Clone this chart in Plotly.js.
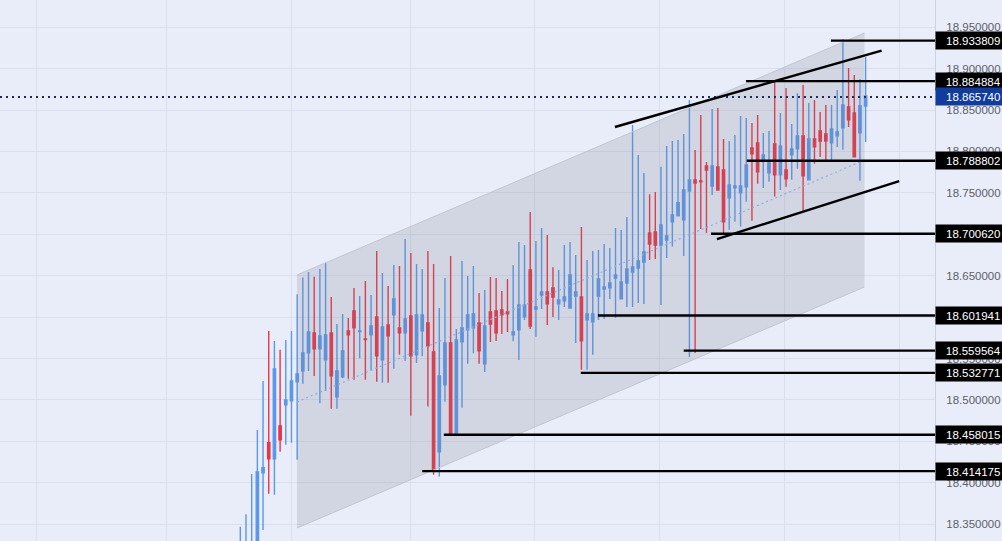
<!DOCTYPE html>
<html>
<head>
<meta charset="utf-8">
<script src="https://cdn.plot.ly/plotly-3.0.1.min.js"></script>
<style>
  html, body { margin: 0; padding: 0; background: #e9edf9; overflow: hidden; }
  #chart { width: 1002px; height: 541px; }
</style>
</head>
<body>
<div id="chart"></div>
<script>
const candleOpen = [18.325,18.32,18.315,18.31,18.412,18.4483,18.429,18.4688,18.4941,18.499,18.5219,18.5351,18.5569,18.581,18.5617,18.5484,18.581,18.5038,18.5279,18.5834,18.6075,18.5826,18.5737,18.5786,18.6003,18.5484,18.5906,18.6027,18.587,18.581,18.6015,18.5545,18.5834,18.593,18.5581,18.4375,18.5183,18.5689,18.4592,18.5701,18.5846,18.587,18.593,18.5436,18.6063,18.6075,18.6087,18.6063,18.5786,18.5846,18.6003,18.657,18.6099,18.6268,18.6304,18.6353,18.616,18.6196,18.6111,18.6256,18.6244,18.5967,18.5943,18.6256,18.634,18.6353,18.6473,18.622,18.6413,18.6545,18.6594,18.6666,18.7016,18.7028,18.6871,18.6931,18.715,18.7223,18.7175,18.7523,18.7655,18.7643,18.7824,18.7583,18.7812,18.7778,18.744,18.756,18.75,18.7573,18.8043,18.8103,18.7898,18.7741,18.8091,18.7717,18.7778,18.7959,18.8031,18.8188,18.7657,18.8151,18.8248,18.8212,18.8103,18.8188,18.8284,18.8537,18.8465,18.8224,18.8549];
const candleHigh = [18.3471,18.362,18.4107,18.4638,18.523,18.5834,18.5713,18.5605,18.5725,18.5834,18.6276,18.6477,18.6545,18.6489,18.6582,18.6654,18.6244,18.5918,18.6039,18.5991,18.6353,18.6256,18.6437,18.6268,18.6799,18.6533,18.6377,18.663,18.6618,18.6943,18.6775,18.6642,18.6582,18.6799,18.6642,18.6111,18.6473,18.6738,18.5858,18.6678,18.6497,18.6618,18.6292,18.6328,18.6485,18.6473,18.6316,18.6461,18.663,18.6907,18.6871,18.7269,18.6919,18.7076,18.6992,18.6602,18.657,18.6871,18.6907,18.6751,18.7088,18.669,18.6799,18.6811,18.6883,18.6835,18.7076,18.7052,18.7209,18.8319,18.7957,18.774,18.7482,18.751,18.7816,18.8066,18.8127,18.8139,18.8212,18.8621,18.8018,18.844,18.7873,18.8512,18.8524,18.8151,18.8127,18.82,18.8429,18.8405,18.8344,18.8441,18.8224,18.8248,18.8851,18.8465,18.8767,18.8332,18.8702,18.8803,18.8586,18.8622,18.8477,18.8561,18.8561,18.8742,18.9353,18.9008,18.8923,18.8875,18.914];
const candleLow = [18.31,18.31,18.305,18.3,18.3431,18.3868,18.3856,18.4375,18.4459,18.4483,18.4278,18.5195,18.5351,18.5291,18.4962,18.511,18.4893,18.4893,18.5263,18.5255,18.5243,18.5504,18.5243,18.5355,18.5219,18.5207,18.5207,18.5376,18.5545,18.5472,18.4809,18.5448,18.5532,18.4921,18.4097,18.4077,18.4978,18.4592,18.458,18.4905,18.5436,18.5565,18.5436,18.5339,18.5701,18.5713,18.5798,18.5822,18.5709,18.5484,18.5967,18.5858,18.5762,18.6099,18.5906,18.6003,18.5967,18.6123,18.6111,18.5689,18.5364,18.5364,18.5545,18.5967,18.5979,18.622,18.5991,18.622,18.6123,18.6123,18.6172,18.616,18.669,18.6702,18.6148,18.6714,18.6853,18.7215,18.6738,18.5519,18.5567,18.7064,18.7016,18.7474,18.7535,18.7006,18.7054,18.715,18.7094,18.7392,18.7163,18.7609,18.756,18.7633,18.7456,18.7536,18.7573,18.7657,18.779,18.7271,18.7657,18.785,18.7934,18.7898,18.7878,18.8055,18.8019,18.8296,18.7934,18.7645,18.8115];
const candleClose = [18.328,18.325,18.32,18.4131,18.4184,18.429,18.5376,18.4519,18.5002,18.5231,18.5315,18.5569,18.5822,18.5617,18.5774,18.5786,18.5291,18.5351,18.5593,18.5786,18.587,18.5834,18.5729,18.5894,18.5532,18.5882,18.5774,18.622,18.581,18.5979,18.5532,18.6027,18.6027,18.5653,18.4158,18.5291,18.5689,18.4592,18.5725,18.587,18.6027,18.6039,18.5593,18.5894,18.5918,18.581,18.6027,18.6039,18.5822,18.6148,18.6148,18.5894,18.6123,18.6304,18.616,18.6244,18.6208,18.6244,18.6509,18.6304,18.5713,18.6039,18.6039,18.6461,18.6365,18.6413,18.6509,18.6425,18.6582,18.6606,18.6678,18.6787,18.6883,18.6871,18.7112,18.698,18.7235,18.738,18.7536,18.7655,18.7619,18.7635,18.7776,18.7824,18.7535,18.715,18.7597,18.7585,18.7585,18.7838,18.7971,18.7753,18.7959,18.7862,18.7717,18.8067,18.7669,18.8031,18.8188,18.7705,18.8151,18.8055,18.8127,18.8127,18.8272,18.8236,18.8561,18.8381,18.7934,18.8549,18.867];

// drawn levels: value, first candle index
const levelValues = [18.933809,18.884884,18.788802,18.70062,18.601941,18.559564,18.532771,18.458015,18.414175];
const levelStarts = [103.9,88.95,89.1,82.8,62.9,78,59.9,35.8,32];
const lastPrice = 18.86574;

// regression channel
const channelX = [9.97,109.8];
const channelTop = [18.6509,18.943];
const channelMid = [18.4976,18.7897];
const channelBottom = [18.3455,18.6364];

// trend lines drawn by hand
const upperTrendX = [65.9,112.8];
const upperTrendY = [18.8295,18.9218];
const lowerTrendX = [83.85,115.9];
const lowerTrendY = [18.6943,18.7643];

// 18.6 and 18.7 sit fully under the level boxes in the source, only the grid shows
const priceTicks = [18.35,18.4,18.45,18.5,18.55,18.6,18.65,18.7,18.75,18.8,18.85,18.9,18.95];
const priceTickLabels = ['18.350000','18.400000','18.450000','18.500000','18.550000','','18.650000','','18.750000','18.800000','18.850000','18.900000','18.950000'];
const timeGrid = [-35.9,-13.07,8.92,29.85,51.8,73.8,95.8,115.9];

const xRange = [-42.27,122.2];
const yRange = [18.3298,18.9828];

const candleX = candleOpen.map((v, i) => i);

const data = [
  // channel body
  {
    x: [channelX[0], channelX[1], channelX[1], channelX[0], channelX[0]],
    y: [channelTop[0], channelTop[1], channelBottom[1], channelBottom[0], channelTop[0]],
    mode: 'lines',
    fill: 'toself',
    fillcolor: 'rgba(120,123,134,0.2)',
    line: { width: 0 },
    hoverinfo: 'skip',
  },
  { x: channelX, y: channelTop, mode: 'lines', line: { color: '#c3c6d1', width: 1 }, hoverinfo: 'skip' },
  { x: channelX, y: channelBottom, mode: 'lines', line: { color: '#c3c6d1', width: 1 }, hoverinfo: 'skip' },
  { x: channelX, y: channelMid, mode: 'lines', line: { color: '#93abdc', width: 1.2, dash: '2px,3px' }, hoverinfo: 'skip' },
  {
    type: 'candlestick',
    x: candleX,
    open: candleOpen,
    high: candleHigh,
    low: candleLow,
    close: candleClose,
    whiskerwidth: 0,
    increasing: { line: { color: '#5a98ec', width: 1.4 }, fillcolor: '#5a98ec' },
    decreasing: { line: { color: '#ea3447', width: 1.4 }, fillcolor: '#ea3447' },
    hoverinfo: 'skip',
  },
  // last price
  {
    x: xRange,
    y: [lastPrice, lastPrice],
    mode: 'lines',
    line: { color: '#1c2a5e', width: 2, dash: '2px,4px' },
    hoverinfo: 'skip',
  },
  { x: upperTrendX, y: upperTrendY, mode: 'lines', line: { color: '#000', width: 2.4 }, hoverinfo: 'skip' },
  { x: lowerTrendX, y: lowerTrendY, mode: 'lines', line: { color: '#000', width: 2.4 }, hoverinfo: 'skip' },
];

levelValues.forEach((v, i) => {
  data.push({
    x: [levelStarts[i], xRange[1]],
    y: [v, v],
    mode: 'lines',
    line: { color: '#000', width: 2.4 },
    hoverinfo: 'skip',
  });
});

function priceLabel(value, bg) {
  return {
    xref: 'paper',
    yref: 'y',
    x: 1,
    y: value,
    xanchor: 'left',
    yanchor: 'middle',
    // two leading spaces push the centred text over to line up with the tick labels
    text: '\u00a0\u00a0' + value.toFixed(6),
    showarrow: false,
    align: 'center',
    width: 66,
    height: 15,
    bgcolor: bg,
    borderpad: 1,
    font: { family: 'Liberation Sans, sans-serif', size: 11.5, color: '#fff' },
  };
}

const annotations = levelValues.map(v => priceLabel(v, '#000'));
annotations.push(priceLabel(lastPrice, '#103c9f'));

const layout = {
  width: 1002,
  height: 541,
  margin: { l: 0, r: 67, t: 0, b: 0 },
  paper_bgcolor: '#e9edf9',
  plot_bgcolor: '#e9edf9',
  showlegend: false,
  boxgap: 0.42,
  xaxis: {
    range: xRange,
    tickvals: timeGrid,
    showticklabels: false,
    ticks: '',
    gridcolor: '#dbdfec',
    gridwidth: 1,
    zeroline: false,
    rangeslider: { visible: false },
  },
  yaxis: {
    side: 'right',
    range: yRange,
    tickvals: priceTicks,
    ticktext: priceTickLabels,
    ticks: 'outside',
    ticklen: 8,
    tickcolor: 'rgba(0,0,0,0)',
    gridcolor: '#dbdfec',
    gridwidth: 1,
    zeroline: false,
    showline: true,
    linecolor: '#cdd1dd',
    tickfont: { family: 'Liberation Sans, sans-serif', size: 11.5, color: '#5c6068' },
  },
  annotations,
};

Plotly.newPlot('chart', data, layout, { displayModeBar: false, staticPlot: true });
</script>
</body>
</html>
